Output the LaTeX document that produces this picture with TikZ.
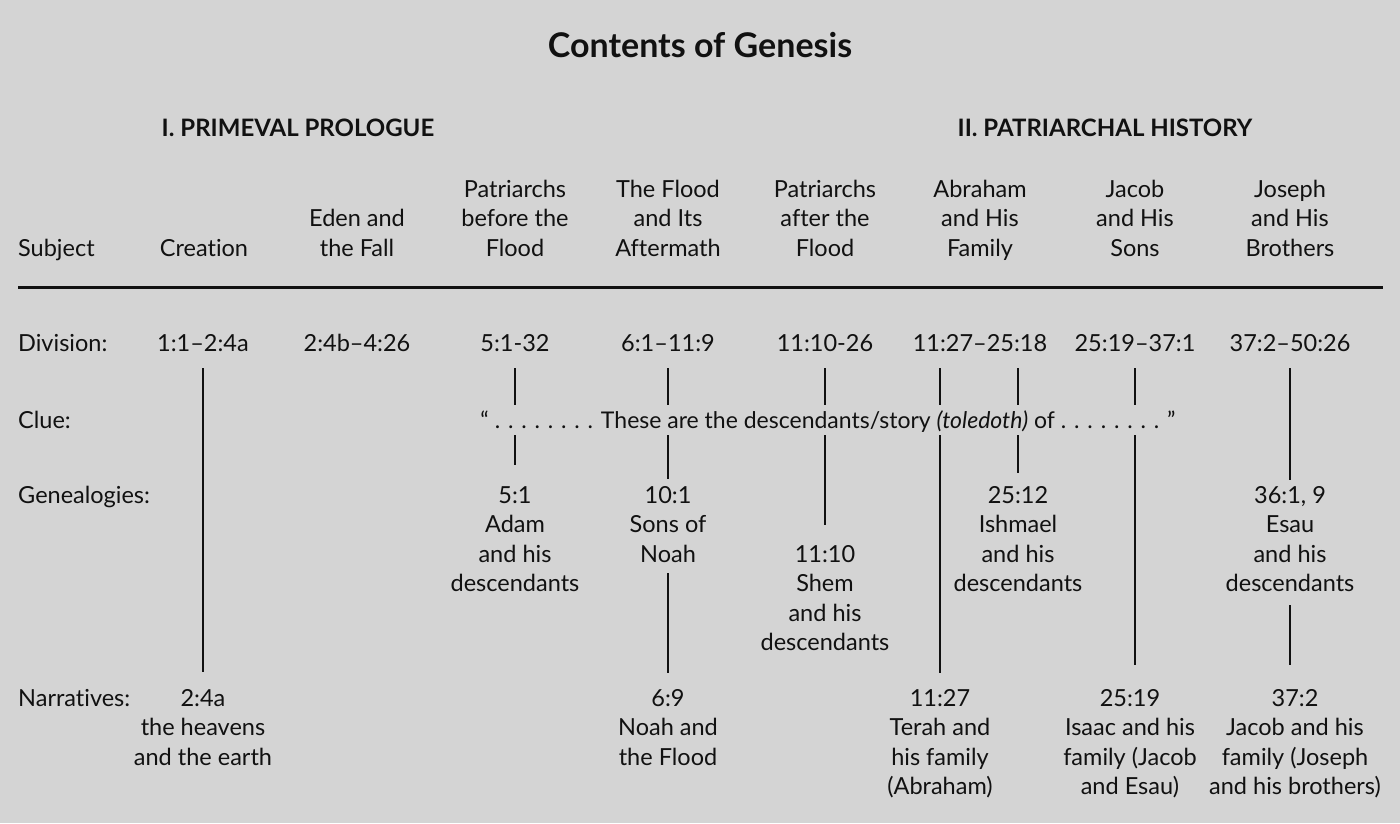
\documentclass[tikz,border=0pt]{standalone}
\usepackage{fontspec}
\setmainfont{Lato}[Ligatures={TeX,NoCommon}]
\usetikzlibrary{positioning}
\definecolor{paper}{HTML}{D4D4D4}
\definecolor{ink}{HTML}{111111}

\begin{document}
\begin{tikzpicture}[x=1pt,y=-1pt,
  cell/.style={font=\fontsize{23.5}{29.5}\selectfont, align=center,
    inner sep=0pt, text=ink, anchor=base},
  part/.style={font=\fontsize{24}{28}\selectfont\bfseries,
    inner sep=0pt, text=ink, anchor=base},
  link/.style={draw=ink, line width=2.4pt}]

% ---------- page ----------
\fill[paper] (0,0) rectangle (1400,823);
\useasboundingbox (0,0) rectangle (1400,823);

% ---------- titles ----------
\node[font=\fontsize{34}{40}\selectfont\bfseries, inner sep=0pt,
  text=ink, anchor=base] (title) at (700,57) {Contents of Genesis};
\node[part] (partone) at (298,136) {I. PRIMEVAL PROLOGUE};
\node[part] (parttwo) at (1105,136) {II. PATRIARCHAL HISTORY};

% ---------- column heads (base = last line) ----------
\node[cell, anchor=base west] (lsubj) at (18,256) {Subject};
\node[cell] (h1) at (204,256) {Creation};
\node[cell] (h2) at (357,256) {Eden and\\the Fall};
\node[cell] (h3) at (515,256) {Patriarchs\\before the\\Flood};
\node[cell] (h4) at (668,256) {The Flood\\and Its\\Aftermath};
\node[cell] (h5) at (825,256) {Patriarchs\\after the\\Flood};
\node[cell] (h6) at (980,256) {Abraham\\and His\\Family};
\node[cell] (h7) at (1135,256) {Jacob\\and His\\Sons};
\node[cell] (h8) at (1290,256) {Joseph\\and His\\Brothers};

\draw[draw=ink, line width=3pt] (18,287) -- (1383,287);

% ---------- division ----------
\node[cell, anchor=base west] (ldiv) at (18,351) {Division:};
\node[cell] (d1) at (203,351) {1:1--2:4a};
\node[cell] (d2) at (357,351) {2:4b--4:26};
\node[cell] (d3) at (515,351) {5:1-32};
\node[cell] (d4) at (668,351) {6:1--11:9};
\node[cell] (d5) at (825,351) {11:10-26};
\node[cell] (d6) at (980,351) {11:27--25:18};
\node[cell] (d7) at (1135,351) {25:19--37:1};
\node[cell] (d8) at (1290,351) {37:2--50:26};

% ---------- clue ----------
\node[cell, anchor=base west] (lclue) at (18,428) {Clue:};
\node[cell, font=\fontsize{23}{29.5}\selectfont,
  text height=23pt, text depth=7pt] (clue) at (828,428)
  {“ . . . . . . . . These are the descendants/story \textit{(toledoth)} of . . . . . . . . ”};

% ---------- genealogies ----------
\node[cell, anchor=base west] (lgen) at (18,503) {Genealogies:};
\node[cell] (g3) at (515,591.5) {5:1\\Adam\\and his\\descendants};
\node[cell] (g4) at (668,562) {10:1\\Sons of\\Noah};
\node[cell] (g5) at (825,650.5) {11:10\\Shem\\and his\\descendants};
\node[cell] (g6) at (1018,591.5) {25:12\\Ishmael\\and his\\descendants};
\node[cell] (g8) at (1290,591.5) {36:1, 9\\Esau\\and his\\descendants};

% ---------- narratives ----------
\node[cell, anchor=base west] (lnar) at (18,706) {Narratives:};
\node[cell] (n1) at (203,765) {2:4a\\the heavens\\and the earth};
\node[cell] (n4) at (668,765) {6:9\\Noah and\\the Flood};
\node[cell] (n6) at (940,794.5) {11:27\\Terah and\\his family\\(Abraham)};
\node[cell] (n7) at (1130,794.5) {25:19\\Isaac and his\\family (Jacob\\and Esau)};
\node[cell] (n8) at (1295,794.5) {37:2\\Jacob and his\\family (Joseph\\and his brothers)};

% ---------- links ----------
\draw[link, shorten <=17pt, shorten >=17pt] (d1.south) -- (n1.north);

\draw[link, shorten <=17pt] (d3.south) -- (d3.south |- clue.north);
\draw[link, shorten >=21pt] (clue.south -| g3.north) -- (g3.north);

\draw[link, shorten <=17pt] (d4.south) -- (d4.south |- clue.north);
\draw[link, shorten >=6.5pt] (clue.south -| g4.north) -- (g4.north);
\draw[link, shorten <=11pt, shorten >=16pt] (g4.south) -- (n4.north);

\draw[link, shorten <=17pt] (d5.south) -- (d5.south |- clue.north);
\draw[link, shorten >=20pt] (clue.south -| g5.north) -- (g5.north);

\draw[link, shorten <=17pt] (d6.south -| n6.north) -- (clue.north -| n6.north);
\draw[link, shorten >=16pt] (clue.south -| n6.north) -- (n6.north);
\draw[link, shorten <=17pt] (d6.south -| g6.north) -- (clue.north -| g6.north);
\draw[link, shorten >=13pt] (clue.south -| g6.north) -- (g6.north);

\draw[link, shorten <=17pt] (d7.south) -- (d7.south |- clue.north);
\draw[link, shorten >=24pt] (clue.south -| d7.south) -- (d7.south |- n7.north);

\draw[link, shorten <=17pt, shorten >=6pt] (d8.south) -- (g8.north);
\draw[link, shorten <=13.5pt, shorten >=24pt] (g8.south) -- (g8.south |- n8.north);

\end{tikzpicture}
\end{document}
